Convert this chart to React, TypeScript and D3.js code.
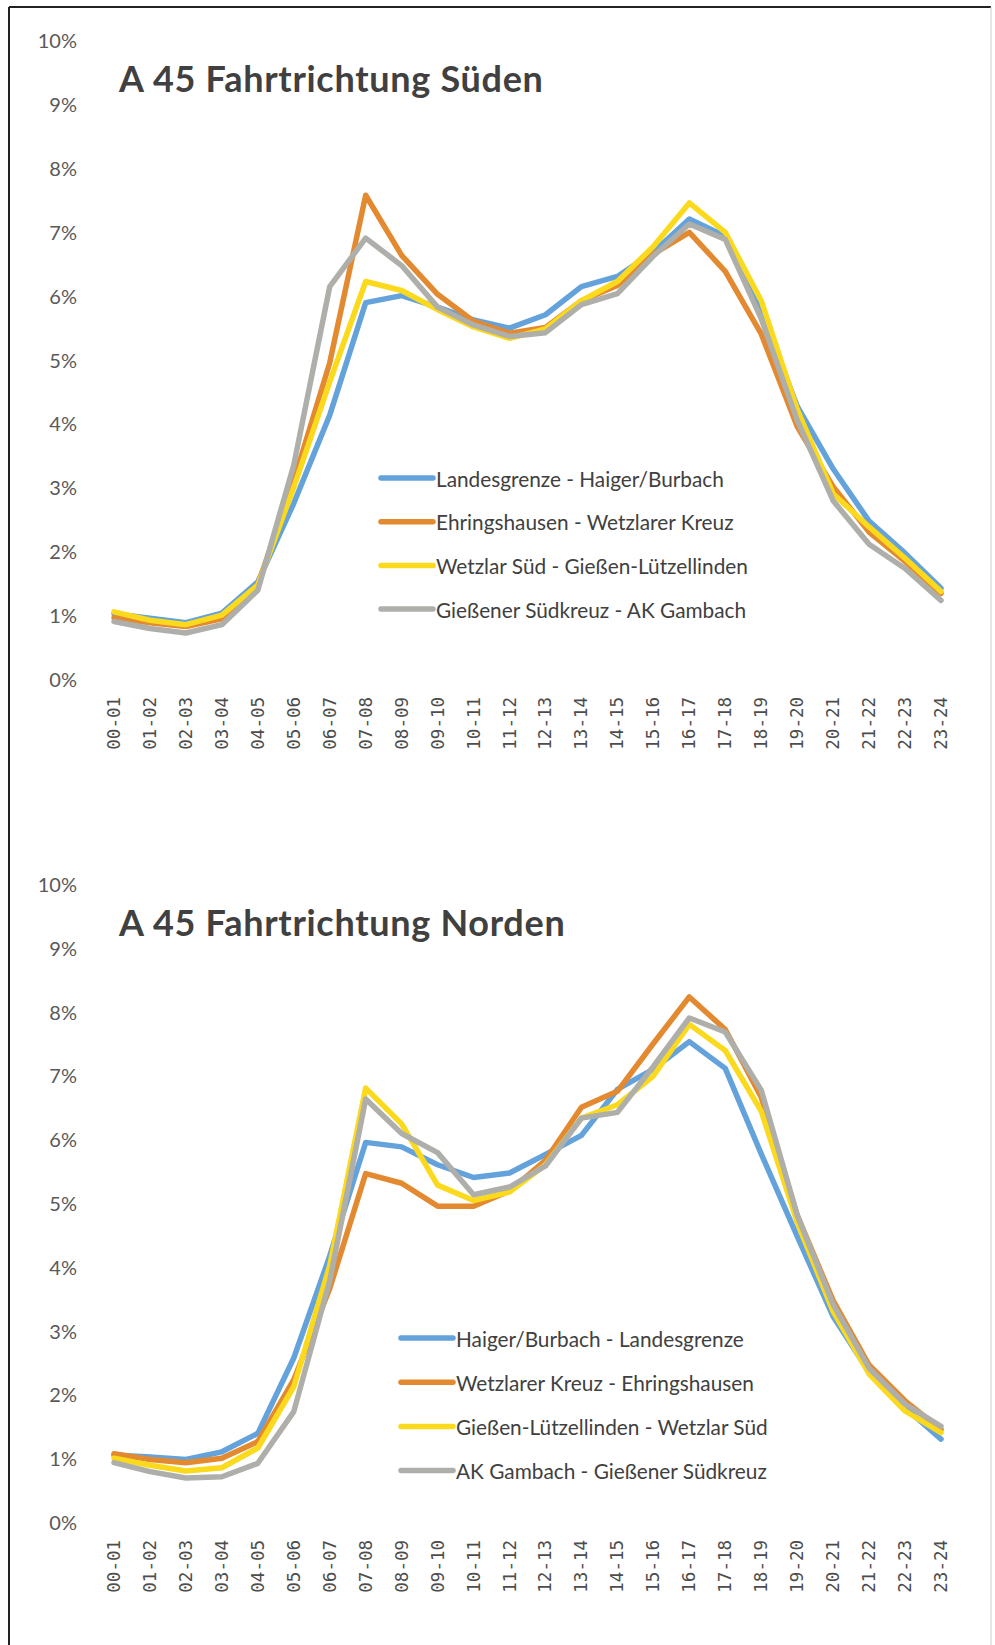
import React from 'react';
import * as d3 from 'd3';

// hour slots
const hours = [
  '00-01', '01-02', '02-03', '03-04', '04-05', '05-06', '06-07', '07-08',
  '08-09', '09-10', '10-11', '11-12', '12-13', '13-14', '14-15', '15-16',
  '16-17', '17-18', '18-19', '19-20', '20-21', '21-22', '22-23', '23-24',
];
const yTicks = [0, 1, 2, 3, 4, 5, 6, 7, 8, 9, 10];

// Fahrtrichtung Süden
const southNames = [
  'Landesgrenze - Haiger/Burbach',
  'Ehringshausen - Wetzlarer Kreuz',
  'Wetzlar Süd - Gießen-Lützellinden',
  'Gießener Südkreuz - AK Gambach',
];
const southBlue = [1.02, 0.95, 0.88, 1.03, 1.52, 2.75, 4.13, 5.89, 6.0, 5.82, 5.62, 5.49, 5.7, 6.14, 6.3, 6.68, 7.2, 6.93, 5.75, 4.27, 3.29, 2.47, 1.97, 1.42];
const southOrange = [0.96, 0.88, 0.82, 0.94, 1.48, 3.1, 4.95, 7.57, 6.63, 6.02, 5.6, 5.41, 5.5, 5.92, 6.16, 6.65, 6.99, 6.38, 5.4, 3.95, 3.01, 2.3, 1.84, 1.34];
const southYellow = [1.05, 0.92, 0.85, 1.0, 1.47, 3.0, 4.65, 6.22, 6.08, 5.78, 5.51, 5.33, 5.48, 5.92, 6.22, 6.77, 7.45, 6.99, 5.92, 4.22, 2.9, 2.38, 1.89, 1.37];
const southGray = [0.9, 0.79, 0.72, 0.85, 1.39, 3.35, 6.14, 6.9, 6.47, 5.82, 5.54, 5.36, 5.42, 5.86, 6.03, 6.62, 7.12, 6.88, 5.64, 4.05, 2.79, 2.11, 1.73, 1.23];

// Fahrtrichtung Norden
const northNames = [
  'Haiger/Burbach - Landesgrenze',
  'Wetzlarer Kreuz - Ehringshausen',
  'Gießen-Lützellinden - Wetzlar Süd',
  'AK Gambach - Gießener Südkreuz',
];
const northBlue = [1.05, 1.02, 0.98, 1.1, 1.39, 2.57, 4.17, 5.95, 5.88, 5.6, 5.4, 5.47, 5.76, 6.06, 6.78, 7.1, 7.53, 7.11, 5.77, 4.48, 3.22, 2.35, 1.79, 1.3];
const northOrange = [1.07, 0.98, 0.93, 1.0, 1.26, 2.23, 3.66, 5.46, 5.31, 4.95, 4.95, 5.19, 5.67, 6.5, 6.75, 7.5, 8.23, 7.72, 6.66, 4.81, 3.47, 2.46, 1.9, 1.45];
const northYellow = [1.0, 0.89, 0.8, 0.85, 1.16, 2.12, 4.02, 6.8, 6.24, 5.28, 5.04, 5.17, 5.6, 6.33, 6.54, 6.99, 7.8, 7.39, 6.44, 4.7, 3.3, 2.32, 1.74, 1.4];
const northGray = [0.93, 0.79, 0.69, 0.71, 0.92, 1.73, 3.78, 6.63, 6.09, 5.79, 5.13, 5.25, 5.58, 6.33, 6.42, 7.14, 7.9, 7.68, 6.77, 4.81, 3.41, 2.41, 1.85, 1.5];

const colors = ['#64a2dc', '#e38a30', '#fbd91c', '#aeaeaa'];

const W = 995;
const H = 1645;

interface ChartProps {
  title: string;
  names: string[];
  series: number[][];
  yTop: number;
  yZero: number;
  legendX: number;
  legendY: number;
  legendStep: number;
}

const Chart: React.FC<ChartProps> = ({ title, names, series, yTop, yZero, legendX, legendY, legendStep }) => {
  const x = d3.scalePoint<string>().domain(hours).range([114, 941]);
  const y = d3.scaleLinear().domain([0, 10]).range([yZero, yTop]);
  const line = d3.line<number>()
    .x((_, i) => x(hours[i]) as number)
    .y(d => y(d));

  return (
    <g>
      {/* y labels */}
      {yTicks.map(t => (
        <text key={t} x={77} y={y(t)} textAnchor="end" dominantBaseline="central"
          fontFamily="Lato" fontSize={20} fill="#595959">{t}%</text>
      ))}
      {/* x labels, rotated */}
      {hours.map(h => (
        <text key={h} transform={`translate(${x(h)},${yZero + 18}) rotate(-90)`}
          textAnchor="end" dominantBaseline="central"
          fontFamily="DejaVu Sans Mono" fontSize={17.5} fill="#4d4d4d">{h}</text>
      ))}
      <text x={119} y={yTop + 52} fontFamily="Lato" fontWeight="bold" fontSize={36}
        letterSpacing={0.7} fill="#404040">{title}</text>
      {series.map((s, i) => (
        <path key={i} d={line(s) || ''} fill="none" stroke={colors[i]} strokeWidth={5.5}
          strokeLinejoin="round" strokeLinecap="round" />
      ))}
      {names.map((n, i) => (
        <g key={n} transform={`translate(${legendX},${legendY + i * legendStep})`}>
          <line x1={0} x2={52} y1={0} y2={0} stroke={colors[i]} strokeWidth={5.5} strokeLinecap="round" />
          <text x={55} y={0} dominantBaseline="central" fontFamily="Lato" fontSize={20.8} fill="#404040">{n}</text>
        </g>
      ))}
    </g>
  );
};

export default function App() {
  return (
    <svg width={W} height={H} style={{ position: 'absolute', left: 0, top: 0, background: '#fff' }}>
      <rect x={0} y={0} width={W} height={H} fill="#fff" />
      {/* page border */}
      <line x1={9} x2={9} y1={7} y2={H} stroke="#222" strokeWidth={2} />
      <line x1={9} x2={W - 4} y1={7} y2={7} stroke="#222" strokeWidth={2} />
      <line x1={W - 4} x2={W - 4} y1={7} y2={H} stroke="#ccc" strokeWidth={1} />
      <Chart title="A 45 Fahrtrichtung Süden" names={southNames}
        series={[southBlue, southOrange, southYellow, southGray]}
        yTop={40} yZero={679} legendX={381} legendY={478} legendStep={43.7} />
      <Chart title="A 45 Fahrtrichtung Norden" names={northNames}
        series={[northBlue, northOrange, northYellow, northGray]}
        yTop={884} yZero={1522} legendX={401} legendY={1338} legendStep={44.2} />
    </svg>
  );
}
